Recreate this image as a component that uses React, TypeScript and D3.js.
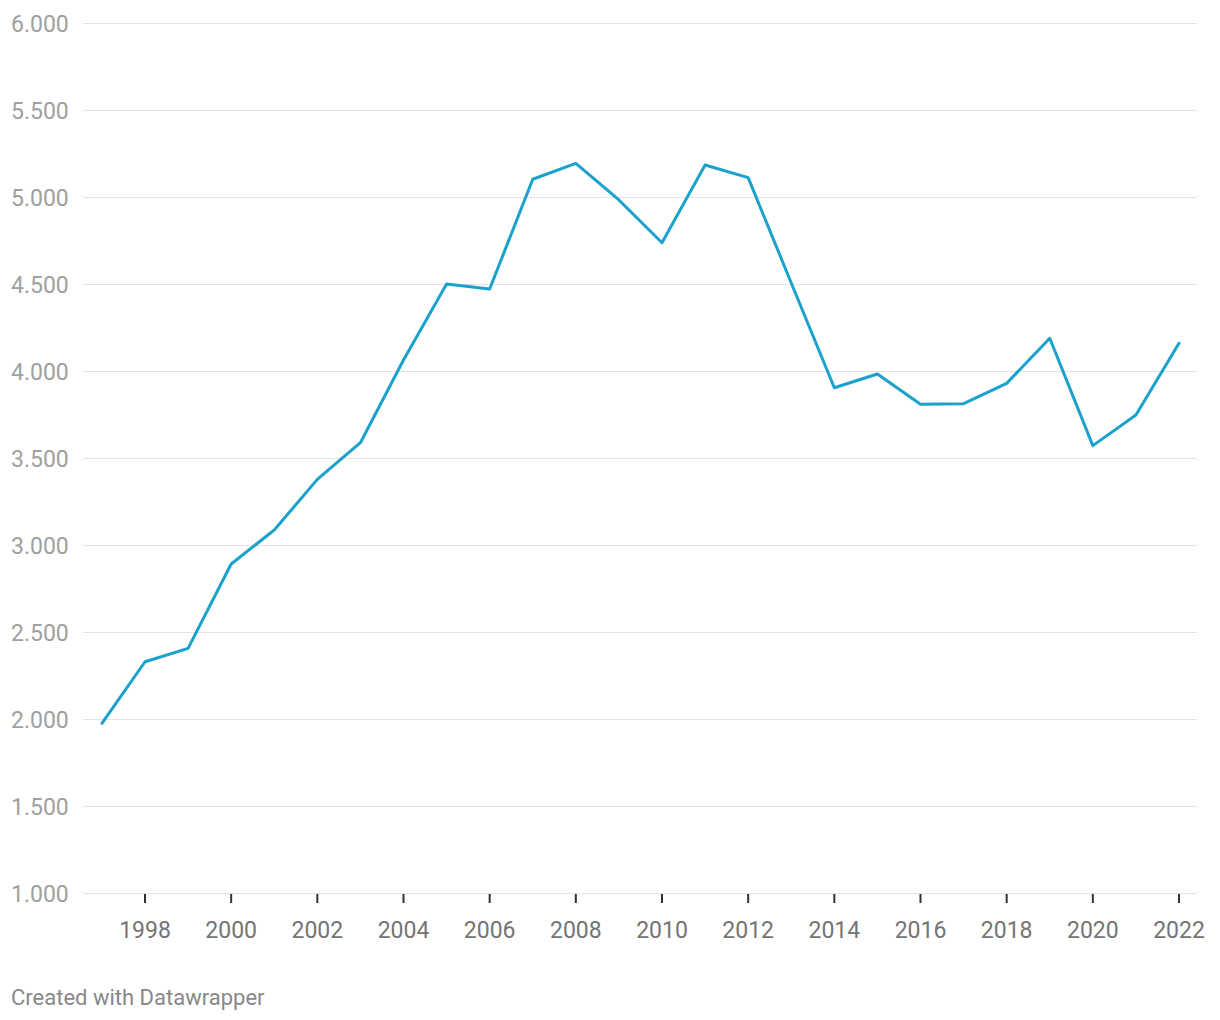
import React from "react";
import * as d3 from "d3";

const years = [1997, 1998, 1999, 2000, 2001, 2002, 2003, 2004, 2005, 2006, 2007, 2008, 2009, 2010, 2011, 2012, 2013, 2014, 2015, 2016, 2017, 2018, 2019, 2020, 2021, 2022];
const values = [1975, 2329, 2406, 2891, 3086, 3377, 3588, 4063, 4500, 4471, 5102, 5193, 4983, 4737, 5184, 5111, 4506, 3904, 3983, 3809, 3812, 3929, 4188, 3571, 3747, 4159];
const yTicks = [1000, 1500, 2000, 2500, 3000, 3500, 4000, 4500, 5000, 5500, 6000];
const xTicks = [1998, 2000, 2002, 2004, 2006, 2008, 2010, 2012, 2014, 2016, 2018, 2020, 2022];
const footer = "Created with Datawrapper";

const W = 1220;
const H = 1020;

export default function App() {
  const x = d3.scaleLinear().domain([1998, 2022]).range([145, 1179]);
  const y = d3.scaleLinear().domain([1000, 6000]).range([893, 23]);
  const fmt = (v: number) => d3.format(",")(v).replace(/,/g, ".");
  const line = d3
    .line<number>()
    .x((_, i) => x(years[i]))
    .y((d) => y(d));

  return (
    <svg
      width={W}
      height={H}
      style={{ position: "absolute", left: 0, top: 0, fontFamily: "Roboto, sans-serif" }}
    >
      <rect width={W} height={H} fill="#fff" />
      {yTicks.map((t) => (
        <g key={t}>
          <line x1={83} x2={1197} y1={Math.round(y(t)) + 0.5} y2={Math.round(y(t)) + 0.5} stroke="#e3e3e3" strokeWidth={1} />
          <text x={11} y={y(t) + 1} dy="0.35em" fontSize={23} fill="#a0a0a0">
            {fmt(t)}
          </text>
        </g>
      ))}
      {xTicks.map((t) => (
        <g key={t}>
          <line x1={x(t)} x2={x(t)} y1={894} y2={903} stroke="#333" strokeWidth={2} />
          <text x={x(t)} y={930} dy="0.35em" textAnchor="middle" fontSize={23} fill="#747474">
            {t}
          </text>
        </g>
      ))}
      <path
        d={line(values) || ""}
        fill="none"
        stroke="#1aa1cc"
        strokeWidth={3}
        strokeLinejoin="round"
        strokeLinecap="round"
      />
      <text x={11} y={997} dy="0.35em" fontSize={22} fill="#888">
        {footer}
      </text>
    </svg>
  );
}
